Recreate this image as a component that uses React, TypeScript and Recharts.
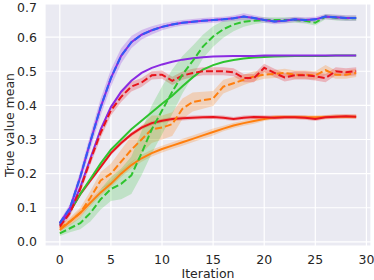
import React from 'react';
import { ComposedChart, Line, Area, XAxis, YAxis, CartesianGrid, Label } from 'recharts';

const ITER = [0, 1, 2, 3, 4, 5, 6, 7, 8, 9, 10, 11, 12, 13, 14, 15, 16, 17, 18, 19, 20, 21, 22, 23, 24, 25, 26, 27, 28, 29];
const X_TICKS = [0, 5, 10, 15, 20, 25, 30];
const Y_TICKS = [0, 0.1, 0.2, 0.3, 0.4, 0.5, 0.6, 0.7];

// top curve (purple solid + blue dashed)
const TOP = [0.055, 0.10, 0.19, 0.295, 0.395, 0.48, 0.545, 0.585, 0.607, 0.62, 0.63, 0.637, 0.642, 0.645, 0.648, 0.65, 0.652, 0.655, 0.66, 0.656, 0.65, 0.646, 0.648, 0.652, 0.65, 0.652, 0.66, 0.658, 0.656, 0.656];
const TOP_SPREAD = [0.008, 0.012, 0.018, 0.022, 0.025, 0.025, 0.022, 0.018, 0.014, 0.012, 0.01, 0.009, 0.008, 0.008, 0.008, 0.008, 0.008, 0.008, 0.01, 0.008, 0.008, 0.008, 0.008, 0.008, 0.008, 0.008, 0.008, 0.008, 0.008, 0.008];
// purple solid plateau ~0.545
const PURPLE = [0.05, 0.09, 0.16, 0.245, 0.33, 0.395, 0.44, 0.472, 0.495, 0.51, 0.52, 0.528, 0.534, 0.538, 0.541, 0.543, 0.544, 0.545, 0.545, 0.545, 0.546, 0.546, 0.546, 0.546, 0.546, 0.546, 0.546, 0.546, 0.546, 0.546];
// green solid
const GREEN = [0.05, 0.09, 0.14, 0.185, 0.23, 0.27, 0.30, 0.33, 0.355, 0.38, 0.405, 0.428, 0.456, 0.482, 0.505, 0.518, 0.527, 0.533, 0.537, 0.54, 0.542, 0.543, 0.544, 0.545, 0.545, 0.545, 0.545, 0.546, 0.546, 0.546];
// green dashed
const GREEN_D = [0.025, 0.04, 0.055, 0.085, 0.125, 0.155, 0.17, 0.195, 0.26, 0.33, 0.385, 0.44, 0.49, 0.53, 0.572, 0.602, 0.623, 0.637, 0.645, 0.648, 0.65, 0.65, 0.65, 0.65, 0.648, 0.642, 0.66, 0.657, 0.655, 0.655];
const GREEN_D_SPREAD = [0.008, 0.012, 0.018, 0.025, 0.03, 0.035, 0.045, 0.055, 0.065, 0.07, 0.07, 0.065, 0.055, 0.045, 0.035, 0.03, 0.025, 0.02, 0.015, 0.01, 0.008, 0.008, 0.008, 0.008, 0.008, 0.008, 0.008, 0.008, 0.008, 0.008];
// red solid
const RED = [0.055, 0.09, 0.14, 0.18, 0.22, 0.26, 0.29, 0.315, 0.335, 0.348, 0.355, 0.36, 0.362, 0.364, 0.365, 0.366, 0.364, 0.36, 0.364, 0.366, 0.365, 0.364, 0.365, 0.365, 0.364, 0.36, 0.365, 0.367, 0.368, 0.367];
const RED_SPREAD = [0.006, 0.006, 0.006, 0.006, 0.006, 0.006, 0.006, 0.006, 0.006, 0.006, 0.006, 0.006, 0.006, 0.006, 0.006, 0.006, 0.006, 0.006, 0.006, 0.006, 0.006, 0.006, 0.006, 0.006, 0.006, 0.006, 0.006, 0.006, 0.006, 0.006];
// red dashed
const RED_D = [0.045, 0.085, 0.155, 0.24, 0.32, 0.385, 0.425, 0.455, 0.467, 0.488, 0.49, 0.472, 0.487, 0.495, 0.5, 0.5, 0.5, 0.497, 0.48, 0.48, 0.51, 0.495, 0.482, 0.488, 0.488, 0.485, 0.48, 0.5, 0.497, 0.5];
const RED_D_SPREAD = [0.008, 0.01, 0.012, 0.014, 0.015, 0.015, 0.015, 0.014, 0.013, 0.012, 0.012, 0.012, 0.012, 0.012, 0.012, 0.012, 0.012, 0.012, 0.012, 0.012, 0.012, 0.012, 0.012, 0.012, 0.012, 0.012, 0.012, 0.012, 0.012, 0.012];
// orange solid
const ORANGE = [0.035, 0.06, 0.085, 0.115, 0.145, 0.17, 0.2, 0.225, 0.245, 0.26, 0.272, 0.282, 0.292, 0.302, 0.312, 0.322, 0.332, 0.341, 0.348, 0.354, 0.36, 0.365, 0.366, 0.366, 0.365, 0.365, 0.366, 0.367, 0.367, 0.367];
const ORANGE_SPREAD = [0.006, 0.008, 0.01, 0.01, 0.01, 0.01, 0.01, 0.01, 0.01, 0.01, 0.01, 0.01, 0.01, 0.01, 0.01, 0.01, 0.008, 0.008, 0.008, 0.008, 0.006, 0.006, 0.006, 0.006, 0.006, 0.006, 0.006, 0.006, 0.006, 0.006];
// orange dashed
const ORANGE_D = [0.04, 0.06, 0.085, 0.13, 0.18, 0.2, 0.235, 0.27, 0.30, 0.33, 0.335, 0.345, 0.39, 0.41, 0.415, 0.42, 0.455, 0.465, 0.475, 0.485, 0.49, 0.492, 0.495, 0.49, 0.49, 0.488, 0.503, 0.49, 0.49, 0.495];
const ORANGE_D_SPREAD = [0.008, 0.012, 0.015, 0.02, 0.025, 0.03, 0.035, 0.04, 0.04, 0.04, 0.035, 0.035, 0.03, 0.028, 0.025, 0.022, 0.02, 0.018, 0.015, 0.015, 0.012, 0.012, 0.012, 0.012, 0.012, 0.012, 0.015, 0.012, 0.012, 0.012];

const C_PURPLE = '#8a2be2';
const C_BLUE = '#2f5cf5';
const C_GREEN = '#2fc42f';
const C_RED = '#e8141c';
const C_ORANGE = '#ff7f0e';

const band = (m: number[], s: number[], i: number) => [m[i] - s[i], m[i] + s[i]];

const data = ITER.map((it, i) => ({
  iter: it,
  top: TOP[i],
  topBand: band(TOP, TOP_SPREAD, i),
  purple: PURPLE[i],
  green: GREEN[i],
  greenD: GREEN_D[i],
  greenDBand: band(GREEN_D, GREEN_D_SPREAD, i),
  red: RED[i],
  redBand: band(RED, RED_SPREAD, i),
  redD: RED_D[i],
  redDBand: band(RED_D, RED_D_SPREAD, i),
  orange: ORANGE[i],
  orangeBand: band(ORANGE, ORANGE_SPREAD, i),
  orangeD: ORANGE_D[i],
  orangeDBand: band(ORANGE_D, ORANGE_D_SPREAD, i),
}));

const FONT = 'DejaVu Sans, sans-serif';
const tickStyle = { fontSize: 12.5, fill: '#262626', fontFamily: FONT };

const YLabel = () => (
  <text x={9} y={125} transform="rotate(-90 9 125)" textAnchor="middle" dominantBaseline="central"
    fontSize={12.5} fill="#262626" fontFamily={FONT}>True value mean</text>
);

export default function App() {
  return (
    <div style={{ position: 'absolute', left: 0, top: 0, width: 374, height: 280, background: '#fff' }}>
      <ComposedChart width={374} height={280} data={data} margin={{ top: 4, right: 3, left: 0, bottom: 0 }}>
        <CartesianGrid stroke="#ffffff" strokeWidth={1.2} fill="#eaeaf2" fillOpacity={1} vertical horizontal />
        <XAxis dataKey="iter" type="number" domain={[-1.45, 30.45]} ticks={X_TICKS} allowDataOverflow
          tickLine={false} axisLine={false} tick={tickStyle} height={34} tickSize={6} tickMargin={3}>
          <Label value="Iteration" position="insideBottom" offset={2.5} style={{ fontSize: 12.5, fill: '#262626', fontFamily: FONT }} />
        </XAxis>
        <YAxis type="number" domain={[-0.012, 0.697]} ticks={Y_TICKS} allowDataOverflow width={45}
          tickLine={false} axisLine={false} tick={tickStyle} tickSize={6} tickMargin={2}
          tickFormatter={(v: number) => v.toFixed(1)}>
          <Label content={<YLabel />} />
        </YAxis>

        <Area dataKey="orangeBand" type="linear" stroke="none" fill={C_ORANGE} fillOpacity={0.25} isAnimationActive={false} />
        <Area dataKey="redBand" type="linear" stroke="none" fill={C_RED} fillOpacity={0.25} isAnimationActive={false} />
        <Area dataKey="orangeDBand" type="linear" stroke="none" fill={C_ORANGE} fillOpacity={0.25} isAnimationActive={false} />
        <Area dataKey="redDBand" type="linear" stroke="none" fill={C_RED} fillOpacity={0.25} isAnimationActive={false} />
        <Area dataKey="greenDBand" type="linear" stroke="none" fill={C_GREEN} fillOpacity={0.22} isAnimationActive={false} />
        <Area dataKey="topBand" type="linear" stroke="none" fill={C_PURPLE} fillOpacity={0.25} isAnimationActive={false} />

        <Line dataKey="orange" type="linear" stroke={C_ORANGE} strokeWidth={2} dot={false} isAnimationActive={false} />
        <Line dataKey="red" type="linear" stroke={C_RED} strokeWidth={2} dot={false} isAnimationActive={false} />
        <Line dataKey="green" type="linear" stroke={C_GREEN} strokeWidth={2} dot={false} isAnimationActive={false} />
        <Line dataKey="purple" type="linear" stroke={C_PURPLE} strokeWidth={2} dot={false} isAnimationActive={false} />
        <Line dataKey="orangeD" type="linear" stroke={C_ORANGE} strokeWidth={2} strokeDasharray="7 3" dot={false} isAnimationActive={false} />
        <Line dataKey="redD" type="linear" stroke={C_RED} strokeWidth={2} strokeDasharray="7 3" dot={false} isAnimationActive={false} />
        <Line dataKey="greenD" type="linear" stroke={C_GREEN} strokeWidth={2} strokeDasharray="7 3" dot={false} isAnimationActive={false} />
        <Line dataKey="top" type="linear" stroke={C_PURPLE} strokeWidth={2} dot={false} isAnimationActive={false} />
        <Line dataKey="top" type="linear" stroke={C_BLUE} strokeWidth={2} strokeDasharray="7 3" dot={false} isAnimationActive={false} />
      </ComposedChart>
    </div>
  );
}
